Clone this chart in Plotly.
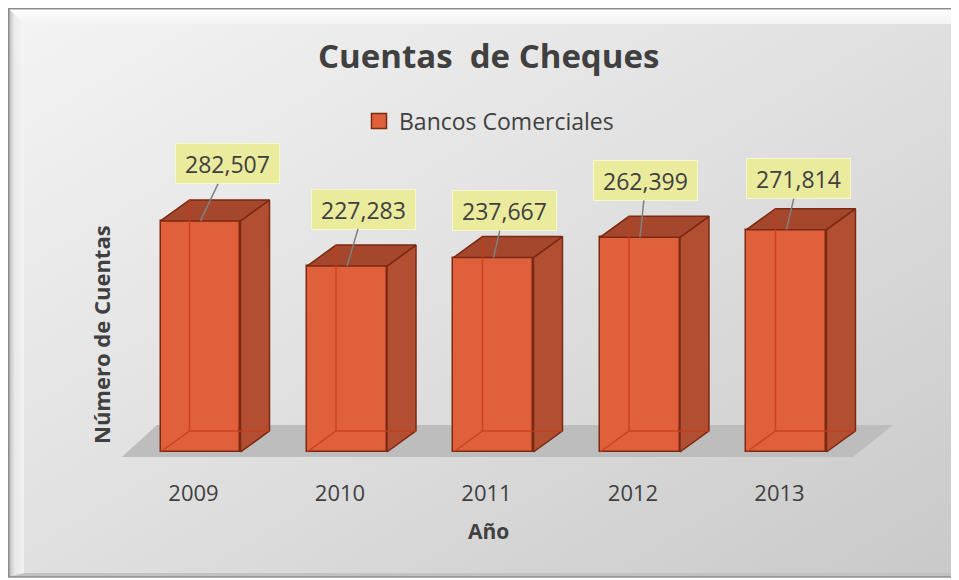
import base64
import plotly.graph_objects as go

# ---- data ----
years = ["2009", "2010", "2011", "2012", "2013"]
cuentas = [282507, 227283, 237667, 262399, 271814]
series_name = "Bancos Comerciales"
title_text = "Cuentas  de Cheques"
x_title = "Año"
y_title = "Número de Cuentas"

# ---- style / geometry ----
OFF = 8                      # page body margin
W, H = 959 - OFF, 580 - OFF
FRONT = "#E0603B"
SIDE = "#B24F33"
TOP = "#A4472C"
EDGE = "#7A2912"
HIDDEN = "rgba(196,62,26,0.85)"
TXT = "#404040"
FONT = "Open Sans"
BAR_W = 0.546
DX = 0.198          # depth, category units
DY = 25700          # depth, value units
label_dx = [27, 17, 11, 6, 12]      # label offsets (px)
label_dy = [-57, -57, -47, -57, -51]


def px(x):
    return (x - OFF) / W


def py(y):
    return 1 - (y - OFF) / H


# plot area in page pixels
PL, PR, PT, PB = 100, 900, 130, 478
X_RANGE = [-0.686, 4.775]
Y_RANGE = [-31785, 393645]

xs = list(range(len(years)))

fig = go.Figure()

# front faces
fig.add_trace(go.Bar(
    x=xs, y=cuentas, width=BAR_W,
    marker=dict(color=FRONT, line=dict(color=EDGE, width=1.5)),
    showlegend=False, hoverinfo="skip",
))

# side faces & top faces & see-through edges
sx, sy, tx, ty = [], [], [], []
hx, hy = [], []
for i, v in zip(xs, cuentas):
    x0, x1 = i - BAR_W / 2, i + BAR_W / 2
    sx += [x1, x1 + DX, x1 + DX, x1, x1, None]
    sy += [0, DY, v + DY, v, 0, None]
    tx += [x0, x1, x1 + DX, x0 + DX, x0, None]
    ty += [v, v, v + DY, v + DY, v, None]
    hx += [x0, x0 + DX, x1 + DX, None, x0 + DX, x0 + DX, None]
    hy += [0, DY, DY, None, DY, v + DY, None]

fig.add_trace(go.Scatter(x=sx, y=sy, mode="lines", fill="toself", fillcolor=SIDE,
                         line=dict(color=EDGE, width=1.5), showlegend=False, hoverinfo="skip"))
fig.add_trace(go.Scatter(x=tx, y=ty, mode="lines", fill="toself", fillcolor=TOP,
                         line=dict(color=EDGE, width=1.5), showlegend=False, hoverinfo="skip"))
fig.add_trace(go.Scatter(x=hx, y=hy, mode="lines", line=dict(color=HIDDEN, width=1.5),
                         showlegend=False, hoverinfo="skip"))

# legend entry
fig.add_trace(go.Scatter(x=[None], y=[None], mode="markers", name=series_name,
                         marker=dict(symbol="square", size=15, color=FRONT,
                                     line=dict(color=EDGE, width=1.5))))

# floor
floor_path = "M -0.536,-6112 L 4.454,-6112 L 4.727,33000 L -0.297,33000 Z"
fig.add_shape(type="path", path=floor_path, xref="x", yref="y", layer="below",
              fillcolor="#bdbdbd", line=dict(width=0))

# data labels
for i, v, dx, dy in zip(xs, cuentas, label_dx, label_dy):
    fig.add_annotation(
        x=i, y=v, xref="x", yref="y", text=f"{v:,}",
        showarrow=True, arrowhead=0, arrowwidth=1.5, arrowcolor="#808080",
        ax=dx, ay=dy, standoff=0,
        bgcolor="#EBEB9E", bordercolor="#F6F6CF", borderwidth=1, borderpad=2,
        width=99, height=35,
        font=dict(family=FONT, size=23, color=TXT),
    )

# titles
fig.add_annotation(x=px(489), y=py(55), xref="paper", yref="paper", text=f"<b>{title_text}</b>",
                   showarrow=False, font=dict(family=FONT, size=33, color=TXT), yanchor="middle")
fig.add_annotation(x=px(488), y=py(531), xref="paper", yref="paper", text=f"<b>{x_title}</b>",
                   showarrow=False, font=dict(family=FONT, size=21, color=TXT), yanchor="middle")
fig.add_annotation(x=px(101), y=py(335), xref="paper", yref="paper", text=f"<b>{y_title}</b>",
                   textangle=-90, showarrow=False, font=dict(family=FONT, size=22, color=TXT),
                   xanchor="center", yanchor="middle")

# background (gradient chart area with bevel)
svg = f"""<svg xmlns="http://www.w3.org/2000/svg" width="{W}" height="{H}">
<defs>
<linearGradient id="g" x1="0" y1="0" x2="1" y2="1"><stop offset="0" stop-color="#f4f4f4"/><stop offset="0.5" stop-color="#e0e0e0"/><stop offset="1" stop-color="#c9c9c9"/></linearGradient>
<linearGradient id="t" x1="0" y1="0" x2="0" y2="1"><stop offset="0" stop-color="#ffffff"/><stop offset="1" stop-color="#f3f3f3"/></linearGradient>
<linearGradient id="l" x1="0" y1="0" x2="1" y2="0"><stop offset="0" stop-color="#a8a8a8"/><stop offset="0.4" stop-color="#e8e8e8"/><stop offset="1" stop-color="#f6f6f6"/></linearGradient>
</defs>
<rect width="{W}" height="{H}" fill="#ffffff"/>
<rect x="0" y="0" width="{W - 4}" height="{H - 3}" fill="url(#g)"/>
<polygon points="0,0 {W - 4},0 {W - 8},16 16,16" fill="url(#t)"/>
<polygon points="0,0 16,16 16,{H - 7} 0,{H - 3}" fill="url(#l)" opacity="0.8"/>
<polygon points="{W - 4},0 {W - 4},{H - 3} {W - 8},{H - 7} {W - 8},16" fill="#bcbcbc"/>
<polygon points="0,{H - 3} {W - 4},{H - 3} {W - 8},{H - 7} 16,{H - 7}" fill="#c2c2c2"/>
<rect x="0.75" y="0.75" width="{W - 4.75}" height="{H - 3.75}" fill="none" stroke="#8c8c8c" stroke-width="1.5"/>
</svg>"""
src = "data:image/svg+xml;base64," + base64.b64encode(svg.encode()).decode()
fig.add_layout_image(source=src, xref="paper", yref="paper", x=0, y=1, sizex=1, sizey=1,
                     sizing="stretch", xanchor="left", yanchor="top", layer="below")

fig.update_layout(
    width=W, height=H,
    margin=dict(l=0, r=0, t=0, b=0),
    paper_bgcolor="white", plot_bgcolor="rgba(0,0,0,0)",
    showlegend=True,
    legend=dict(orientation="h", x=px(359), xanchor="left", y=py(121), yanchor="middle",
                font=dict(family=FONT, size=23, color=TXT), bgcolor="rgba(0,0,0,0)",
                itemwidth=30),
    xaxis=dict(domain=[px(PL), px(PR)], range=X_RANGE, tickvals=xs, ticktext=years,
               showgrid=False, zeroline=False, showline=False, ticks="",
               tickfont=dict(family=FONT, size=22, color=TXT), ticklabelshift=-7,
               fixedrange=True),
    yaxis=dict(domain=[py(PB), py(PT)], range=Y_RANGE, showgrid=False, zeroline=False,
               showline=False, showticklabels=False, ticks="", fixedrange=True),
    bargap=0,
)

fig.write_html("out.html")
